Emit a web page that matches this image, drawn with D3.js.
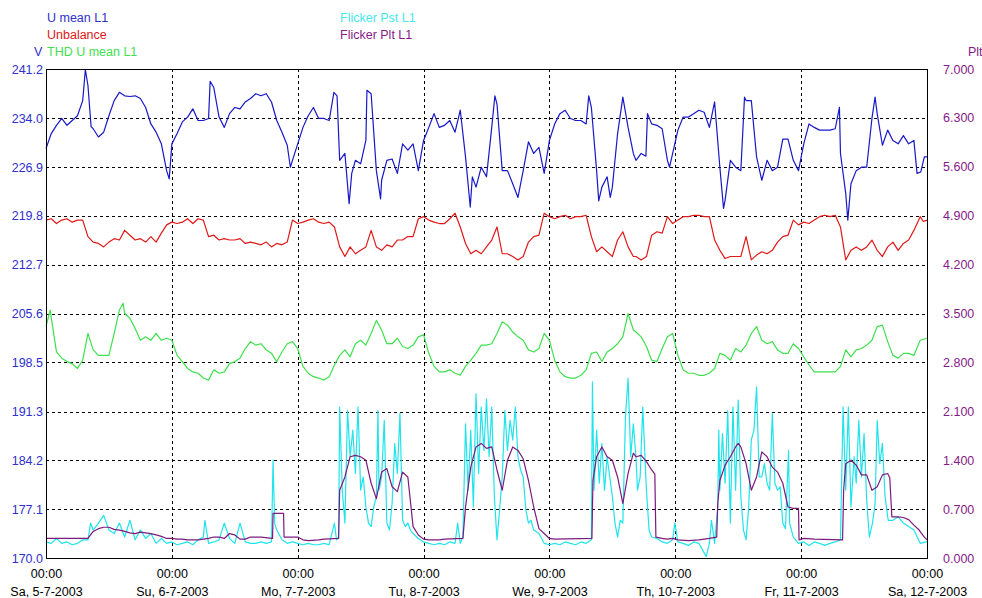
<!DOCTYPE html>
<html>
<head>
<meta charset="utf-8">
<script src="https://cdn.jsdelivr.net/npm/d3@7"></script>
<style>
  body { margin: 0; background: #fff; }
  svg { display: block; font-family: "Liberation Sans", Arial, sans-serif; }
</style>
</head>
<body>
<svg id="chart" width="982" height="598"></svg>
<script>
// ==================== DATA ====================
// hours since Sa 5-7-2003 00:00
const dayLabels = ["Sa, 5-7-2003", "Su, 6-7-2003", "Mo, 7-7-2003", "Tu, 8-7-2003",
  "We, 9-7-2003", "Th, 10-7-2003", "Fr, 11-7-2003", "Sa, 12-7-2003"];
const leftTicks = [170.0, 177.1, 184.2, 191.3, 198.5, 205.6, 212.7, 219.8, 226.9, 234.0, 241.2];
const rightTicks = [0, 0.7, 1.4, 2.1, 2.8, 3.5, 4.2, 4.9, 5.6, 6.3, 7.0];

// U mean L1 (V)
const uMean = [[0,229.6],[1,231.8],[2,233.0],[3,234.0],[4,233.0],[5,233.7],[6,234.4],[7,236.6],[7.5,241.1],[8,238.8],[8.6,232.8],[9,232.5],[10,231.3],[11,232.0],[12,234.4],[13,236.6],[14,237.8],[15,237.3],[16,237.2],[17,237.3],[18,236.9],[19,235.6],[20,233.2],[21,232.0],[22,230.3],[23,226.4],[23.5,225.2],[24,230.3],[25,231.8],[26,233.5],[27,234.2],[28,235.4],[29,233.7],[30,233.7],[31,234.0],[31.3,239.4],[32,238.5],[33,234.2],[34,232.7],[35,234.7],[36,235.6],[37,235.4],[38,236.4],[39,236.9],[40,237.6],[41,237.3],[42,237.6],[43,236.4],[44,233.7],[45,232.0],[46,230.1],[46.6,226.9],[47,227.9],[48,230.3],[49,232.7],[50,234.4],[51,235.6],[52,234.0],[53,234.0],[54,233.7],[54.9,237.8],[55.5,237.3],[56,227.9],[57,228.9],[57.8,221.6],[58.3,226.0],[59,227.9],[60,227.4],[61,230.8],[61.2,238.1],[62,237.6],[63,226.4],[63.8,222.3],[64,225.0],[65,227.9],[66,228.1],[67,226.0],[68,230.3],[69,229.4],[70,230.3],[71,226.4],[72,230.8],[73,232.7],[74,234.7],[75,232.7],[76,233.0],[77,233.7],[78,232.0],[79,235.2],[80,228.4],[80.9,221.1],[81.3,225.5],[82,224.0],[83,226.9],[84,225.5],[85,232.7],[85.6,237.3],[86,236.1],[87,226.4],[88,226.4],[89,224.5],[90,222.5],[91,226.4],[92,230.6],[93,228.9],[94,229.8],[95,226.0],[96,230.8],[97,233.2],[98,234.7],[99,235.2],[100,234.0],[101,233.7],[102,233.7],[103,233.2],[103.5,237.3],[104,235.6],[105,226.4],[105.4,222.0],[106,224.0],[107,225.5],[107.6,222.5],[108,224.0],[109,231.8],[110,237.1],[111,232.7],[112,228.9],[112.5,227.9],[113.5,228.9],[114.4,228.5],[114.7,234.7],[115.5,233.2],[116.5,233.0],[117.5,232.5],[118.5,227.9],[118.9,226.9],[119.5,228.9],[120.5,232.3],[121.5,234.2],[122.5,234.2],[123.5,234.7],[124.5,235.2],[125.5,234.9],[126.5,232.7],[127.5,236.4],[128.5,226.9],[129.2,220.9],[129.5,222.1],[130.5,227.9],[131.5,226.9],[132.5,226.4],[133.2,237.1],[133.5,236.6],[134.5,236.6],[135.5,228.4],[136.5,225.0],[137.5,227.9],[138.5,226.4],[139.5,226.9],[140.5,231.0],[141.5,231.0],[142.5,227.9],[143.5,226.4],[144.5,230.3],[145.5,233.2],[146.5,232.7],[147.5,232.3],[148.5,232.3],[149.5,232.3],[150.5,232.5],[151.3,235.6],[151.5,228.9],[152.5,223.1],[152.9,219.2],[153.5,224.5],[154.5,226.4],[155.5,226.9],[156.5,226.9],[157.5,234.0],[158.1,237.1],[158.5,234.7],[159.5,230.1],[160.5,232.3],[161.5,230.8],[162.5,230.3],[163.5,231.5],[164.5,230.3],[165.5,230.8],[166.1,226.0],[166.8,226.2],[167.5,228.4],[168,228.4]];

// Unbalance (drawn on the V scale)
const unbalance = [[0,219.2],[1,219.4],[2,218.7],[3,219.2],[4,219.4],[5,218.9],[6,219.2],[7,219.2],[8,216.8],[9,216.0],[10,215.8],[11,215.3],[12,216.0],[13,216.5],[14,216.3],[15,217.7],[16,217.0],[17,216.3],[18,216.5],[19,216.0],[20,216.8],[21,216.0],[22,217.3],[23,218.5],[24,218.9],[25,218.7],[26,218.9],[27,219.4],[28,218.7],[29,219.4],[30,219.2],[31,216.8],[32,217.0],[33,216.3],[34,216.5],[35,216.3],[36,216.3],[37,216.5],[38,215.8],[39,216.0],[40,215.8],[41,215.6],[42,216.0],[43,215.3],[44,215.8],[45,215.6],[46,216.0],[47,219.2],[48,218.7],[49,218.9],[50,219.2],[51,219.4],[52,218.9],[53,218.7],[54,218.9],[55,218.2],[56,215.3],[57,213.9],[58,215.3],[59,214.3],[60,214.8],[61,215.3],[62,217.7],[63,215.3],[64,214.8],[65,215.6],[66,215.3],[67,216.3],[68,216.3],[69,216.8],[70,216.8],[71,219.4],[72,219.7],[73,219.2],[74,218.9],[75,218.7],[76,218.7],[77,219.4],[78,220.2],[79,218.2],[80,215.8],[81,214.3],[82,214.8],[83,214.3],[84,215.3],[85,216.3],[86,218.2],[87,214.3],[88,214.3],[89,213.9],[90,213.4],[91,213.9],[92,216.0],[93,216.8],[94,217.0],[95,220.2],[96,219.7],[97,219.4],[98,219.7],[99,219.9],[100,219.4],[101,219.7],[102,219.7],[103,219.9],[104,216.8],[105,214.6],[106,215.3],[107,214.6],[108,213.9],[109,216.3],[110,217.5],[111,215.3],[112,213.9],[112.5,213.9],[113.5,213.4],[114.5,213.9],[115.5,217.0],[116.5,217.5],[117.5,217.3],[118.5,219.7],[119.5,218.7],[120.5,219.2],[121.5,219.7],[122.5,219.7],[123.5,219.9],[124.5,219.9],[125.5,219.7],[126.5,219.7],[127.5,216.3],[128.5,214.8],[129.5,213.6],[130.5,213.9],[131.5,213.9],[132.5,213.9],[133.5,216.8],[134.5,213.4],[135.5,214.1],[136.5,214.6],[137.5,214.3],[138.5,214.8],[139.5,216.0],[140.5,216.8],[141.5,217.0],[142.5,219.2],[143.5,218.5],[144.5,218.9],[145.5,218.7],[146.5,219.2],[147.5,219.7],[148.5,219.9],[149.5,219.7],[150.5,219.9],[151.5,218.2],[152.5,213.4],[153.5,214.8],[154.5,215.3],[155.5,214.8],[156.5,215.3],[157.5,216.3],[158.5,214.8],[159.5,213.9],[160.5,215.3],[161.5,216.0],[162.5,214.8],[163.5,215.8],[164.5,216.3],[165.5,217.7],[166.7,219.7],[167.3,219.0],[168,219.2]];

// THD U mean L1 (drawn on the V scale)
const thd = [[0,203.7],[0.8,206.1],[1,205.0],[2,200.0],[3,199.1],[4,198.6],[5,198.3],[6,197.6],[7,198.8],[8,202.7],[9,200.3],[10,199.5],[11,199.5],[12,199.5],[13,202.7],[14,206.1],[14.7,207.1],[15,205.6],[16,204.9],[17,203.4],[18,201.7],[19,202.2],[20,201.7],[21,202.7],[22,201.7],[23,202.0],[24,201.7],[25,199.5],[26,198.6],[27,197.6],[28,197.1],[29,196.9],[30,196.2],[31,195.9],[32,197.4],[33,196.9],[34,197.1],[35,198.3],[36,198.6],[37,199.1],[38,200.5],[39,201.5],[40,201.0],[41,201.2],[42,200.3],[43,199.8],[44,198.6],[45,200.0],[46,201.2],[47,201.5],[48,200.5],[49,197.9],[50,196.9],[51,196.4],[52,196.2],[53,195.9],[54,196.4],[55,198.1],[56,199.5],[57,200.3],[58,199.3],[59,201.2],[60,201.7],[61,201.0],[62,202.7],[63,204.6],[64,203.2],[65,201.2],[66,201.2],[67,202.0],[68,200.8],[69,200.5],[70,201.0],[71,202.2],[72,202.5],[73,199.8],[74,197.9],[75,197.1],[76,197.1],[77,197.4],[78,196.9],[79,196.6],[80,197.9],[81,198.8],[82,199.8],[83,201.0],[84,201.0],[85,201.2],[86,202.7],[87,204.4],[88,203.9],[89,202.9],[90,202.2],[91,201.7],[92,200.3],[93,200.0],[94,200.5],[95,202.7],[96,201.7],[97,198.8],[98,197.1],[99,196.4],[100,196.2],[101,196.2],[102,196.6],[103,197.4],[104,199.8],[105,200.0],[106,198.6],[107,200.0],[108,200.5],[109,201.2],[110,202.2],[111,205.6],[112,203.2],[112.5,202.9],[113.5,202.2],[114.5,200.8],[115.5,198.8],[116.5,198.6],[117.5,200.5],[118.5,202.2],[119.5,202.7],[120.5,199.5],[121.5,197.4],[122.5,196.9],[123.5,196.9],[124.5,196.6],[125.5,196.6],[126.5,196.9],[127.5,197.6],[128.5,199.8],[129.5,199.5],[130.5,198.8],[131.5,200.5],[132.5,200.0],[133.5,201.0],[134.5,202.7],[135.5,203.7],[136.5,201.7],[137.5,201.2],[138.5,201.5],[139.5,200.3],[140.5,199.8],[141.5,199.8],[142.5,201.2],[143.5,200.5],[144.5,199.3],[145.5,198.1],[146.5,197.1],[147.5,197.1],[148.5,197.1],[149.5,197.1],[150.5,197.1],[151.5,197.9],[152.5,200.3],[153.5,199.3],[154.5,200.3],[155.5,200.5],[156.5,201.0],[157.5,201.7],[158.5,203.7],[159.5,203.9],[160.5,201.5],[161.5,199.5],[162.5,199.1],[163.5,199.8],[164.5,199.8],[165.5,199.5],[166.7,201.7],[168,202.0]];

// Flicker Pst L1 (right scale)
const pst = [[0,0.23],[1,0.21],[2,0.28],[3,0.21],[4,0.23],[5,0.19],[6,0.21],[7,0.26],[8,0.26],[8.5,0.50],[9,0.40],[10,0.50],[11,0.61],[12,0.40],[13,0.35],[14,0.50],[15,0.30],[16,0.54],[17,0.26],[18,0.40],[19,0.28],[20,0.35],[21,0.21],[22,0.28],[23,0.21],[24,0.23],[25,0.19],[26,0.21],[27,0.23],[28,0.19],[29,0.26],[30,0.30],[30.3,0.54],[31,0.21],[32,0.23],[33,0.26],[34,0.50],[35,0.28],[36,0.21],[37,0.50],[38,0.23],[39,0.21],[40,0.21],[41,0.23],[42,0.21],[43,0.23],[43.3,1.40],[43.6,0.50],[44,0.40],[45,0.26],[46,0.21],[47,0.23],[48,0.21],[49,0.19],[50,0.21],[51,0.19],[52,0.19],[53,0.21],[54,0.19],[55,0.50],[55.4,0.26],[55.8,0.30],[56,2.16],[56.5,0.97],[57,0.50],[57.5,2.11],[58,1.45],[58.5,1.83],[59,1.21],[59.5,2.16],[60,0.97],[60.5,1.16],[61,0.73],[61.5,0.50],[62,0.45],[62.5,0.73],[63,0.88],[63.3,2.11],[63.5,0.97],[64,1.16],[64.5,1.97],[65,0.50],[65.5,0.40],[66,0.78],[66.5,1.64],[67,1.21],[67.5,2.07],[68,0.54],[68.5,0.45],[69,0.50],[69.5,0.40],[70,0.35],[71,0.28],[72,0.23],[73,0.21],[74,0.19],[75,0.21],[76,0.19],[77,0.23],[78,0.21],[78.5,0.50],[79,0.21],[79.5,0.30],[80,1.92],[80.5,0.97],[81,1.83],[81.5,0.73],[82,2.35],[82.5,1.21],[83,2.16],[83.5,1.54],[84,2.28],[84.5,1.45],[85,2.16],[85.5,0.88],[86,0.26],[86.5,0.69],[87,1.16],[87.5,2.11],[88,1.54],[88.5,1.97],[89,1.69],[89.5,2.16],[90,1.45],[90.5,1.26],[91,1.16],[91.5,0.69],[92,0.50],[92.5,0.54],[93,0.40],[94,0.35],[95,0.21],[96,0.19],[97,0.21],[98,0.19],[99,0.23],[100,0.21],[101,0.19],[102,0.23],[103,0.21],[104,0.26],[104.2,2.52],[104.5,0.97],[105,1.83],[105.5,1.07],[106,1.64],[106.5,0.97],[107,1.45],[107.5,1.16],[108,0.88],[108.5,0.50],[109,0.30],[109.5,0.54],[110,0.50],[110.5,2.02],[111,2.57],[111.5,1.45],[112,1.92],[112.5,1.45],[112.8,0.97],[113.3,1.16],[113.8,2.16],[114.5,0.97],[115,0.40],[115.5,0.30],[116.5,0.28],[117.5,0.23],[118.5,0.21],[119.5,0.26],[119.9,0.50],[120.5,0.23],[121.5,0.21],[122.5,0.18],[123.5,0.23],[124.5,0.21],[125.9,0.02],[126.5,0.21],[126.9,0.54],[127.5,0.21],[128.1,0.73],[128.3,1.83],[128.5,0.97],[129,1.78],[129.5,1.07],[130,2.11],[130.5,0.50],[131,2.16],[131.5,0.97],[132,2.26],[132.5,0.88],[133,0.40],[133.5,0.26],[134,0.73],[134.5,1.69],[135,1.83],[135.5,2.45],[136,1.16],[136.5,1.16],[137,1.35],[137.5,1.07],[138,0.97],[138.5,2.07],[139,1.07],[139.5,0.97],[140,1.02],[140.5,0.50],[141,0.42],[141.6,1.54],[141.8,0.50],[142.5,0.30],[143.5,0.21],[144.5,0.23],[145.5,0.18],[146.5,0.23],[147.5,0.21],[148.5,0.18],[149.5,0.21],[150.5,0.23],[151.5,0.26],[152,2.16],[152.5,0.97],[153,2.16],[153.5,0.73],[154.1,1.45],[154.5,1.07],[155,1.97],[155.5,1.16],[156,1.78],[156.5,0.83],[157,0.30],[157.6,0.50],[158.1,0.78],[158.5,1.97],[159,1.35],[159.5,1.64],[160,0.88],[160.6,0.54],[161.5,0.54],[162.5,0.59],[163.5,0.50],[164.5,0.45],[165.5,0.40],[166.7,0.21],[167.8,0.23],[168,0.23]];

// Flicker Plt L1 (right scale)
const plt = [[0,0.28],[8,0.28],[9,0.38],[10,0.42],[11,0.44],[12,0.44],[13,0.41],[14,0.40],[15,0.38],[16,0.36],[17,0.35],[18,0.37],[19,0.36],[20,0.35],[21,0.33],[22,0.31],[23,0.28],[24,0.28],[25,0.27],[26,0.27],[27,0.26],[29,0.26],[30,0.27],[31,0.28],[32,0.30],[33,0.30],[34,0.28],[35,0.35],[36,0.33],[37,0.27],[38,0.27],[39,0.30],[41,0.30],[43.2,0.28],[43.3,0.64],[45.3,0.64],[45.4,0.30],[47,0.30],[48,0.30],[49,0.26],[50,0.25],[52,0.26],[53,0.27],[55.8,0.28],[56,0.97],[57,1.16],[58,1.45],[59,1.47],[60,1.45],[61,1.40],[62,1.07],[63,0.85],[64,1.23],[65,1.28],[66,1.02],[67,0.95],[68,1.23],[69,1.16],[70,0.45],[71,0.33],[72,0.27],[73,0.26],[75,0.26],[76,0.27],[79.5,0.28],[80,0.73],[81,1.30],[82,1.59],[83,1.64],[84,1.57],[85,1.59],[86,1.26],[87,0.97],[88,1.40],[89,1.59],[90,1.54],[91,1.42],[92,1.11],[93,0.73],[94,0.42],[95,0.35],[96,0.28],[97,0.27],[104.1,0.28],[104.3,1.11],[105,1.45],[106,1.59],[107,1.45],[108,1.40],[109,1.16],[110,0.78],[111,1.21],[112,1.50],[112.5,1.45],[113.5,1.47],[114.5,1.38],[115.5,1.26],[116.1,1.20],[116.3,0.30],[117.5,0.28],[118.5,0.27],[119.5,0.28],[120.5,0.26],[122.5,0.25],[124.5,0.26],[126.5,0.28],[127.9,0.30],[128.1,0.78],[128.5,1.11],[129.5,1.33],[130.5,1.45],[131.5,1.59],[132,1.64],[132.5,1.59],[133.5,1.35],[134.5,0.97],[135.5,1.16],[136.5,1.52],[137.5,1.45],[138.5,1.30],[139.5,1.23],[140.5,1.07],[141.5,0.73],[142.5,0.71],[143.5,0.71],[143.6,0.26],[144.5,0.28],[146.5,0.27],[151.9,0.26],[152.1,0.97],[152.5,1.35],[153.5,1.40],[154.5,1.33],[155.5,1.19],[156.5,1.19],[157.5,0.97],[158.5,1.02],[159.5,1.19],[160.5,1.21],[160.9,1.15],[161.3,0.59],[162.5,0.59],[163.5,0.58],[164.5,0.55],[165.5,0.47],[166.5,0.40],[167.5,0.30],[168,0.26]];

// ==================== KONFIGURASI ====================
const colors = {
  blue: "#1818c8",
  blueText: "#2f2fcc",
  red: "#e01818",
  green: "#3ee04e",
  cyan: "#20e4ec",
  purple: "#7c1a7e",
  purpleText: "#861a86",
};
const plot = { left: 46, right: 927, top: 69, bottom: 558 };
const start = new Date(2003, 6, 5);
const hour = (h) => new Date(start.getTime() + h * 3600e3);
const days = d3.range(8).map((d) => hour(d * 24));

const svg = d3.select("#chart");

const x = d3.scaleTime().domain([days[0], days[7]]).range([plot.left, plot.right]);
const yL = d3.scaleLinear().domain([170, 241.2]).range([plot.bottom, plot.top]);
const yR = d3.scaleLinear().domain([0, 7]).range([plot.bottom, plot.top]);

// ==================== GRID ====================
const grid = svg.append("g").attr("stroke", "#000").attr("stroke-dasharray", "3,3").attr("stroke-width", 1);
grid.selectAll("line.h")
  .data(leftTicks.slice(1, -1))
  .enter().append("line")
  .attr("x1", plot.left).attr("x2", plot.right)
  .attr("y1", (d) => Math.round(yL(d)) + 0.5).attr("y2", (d) => Math.round(yL(d)) + 0.5);
grid.selectAll("line.v")
  .data(days.slice(1, -1))
  .enter().append("line")
  .attr("y1", plot.top).attr("y2", plot.bottom)
  .attr("x1", (d) => Math.round(x(d)) + 0.5).attr("x2", (d) => Math.round(x(d)) + 0.5);

// ==================== SERIES ====================
const lineL = d3.line().x((d) => x(hour(d[0]))).y((d) => yL(d[1]));
const lineR = d3.line().x((d) => x(hour(d[0]))).y((d) => yR(d[1]));

const series = [
  { data: thd, line: lineL, color: colors.green },
  { data: unbalance, line: lineL, color: colors.red },
  { data: uMean, line: lineL, color: colors.blue },
  { data: pst, line: lineR, color: colors.cyan },
  { data: plt, line: lineR, color: colors.purple },
];
series.forEach((s) => {
  svg.append("path")
    .datum(s.data)
    .attr("fill", "none")
    .attr("stroke", s.color)
    .attr("stroke-width", 1.2)
    .attr("stroke-linejoin", "round")
    .attr("d", s.line);
});

// frame
svg.append("rect")
  .attr("x", plot.left + 0.5).attr("y", plot.top + 0.5)
  .attr("width", plot.right - plot.left).attr("height", plot.bottom - plot.top)
  .attr("fill", "none").attr("stroke", "#000").attr("stroke-width", 1);

// ==================== AXES ====================
const axL = svg.append("g")
  .attr("transform", `translate(${plot.left},0)`)
  .call(d3.axisLeft(yL).tickValues(leftTicks).tickSize(0).tickPadding(3).tickFormat(d3.format(".1f")));
axL.select(".domain").remove();
axL.selectAll("text").attr("fill", colors.blueText).style("font-size", "12.5px")
  .style("font-family", "Liberation Sans, Arial, sans-serif");

const axR = svg.append("g")
  .attr("transform", `translate(${plot.right},0)`)
  .call(d3.axisRight(yR).tickValues(rightTicks).tickSize(0).tickPadding(16).tickFormat(d3.format(".3f")));
axR.select(".domain").remove();
axR.selectAll("text").attr("fill", colors.purpleText).style("font-size", "12.5px")
  .style("font-family", "Liberation Sans, Arial, sans-serif");

const axB = svg.append("g")
  .attr("transform", `translate(0,${plot.bottom})`)
  .call(d3.axisBottom(x).tickValues(days).tickSize(0).tickPadding(11).tickFormat(d3.timeFormat("%H:%M")));
axB.select(".domain").remove();
axB.selectAll("text").attr("fill", "#000").style("font-size", "12.5px")
  .style("font-family", "Liberation Sans, Arial, sans-serif")
  .each(function (d, i) {
    d3.select(this).append("tspan").attr("x", 0).attr("dy", "1.45em").text(dayLabels[i]);
  });

// ==================== LEGEND ====================
const legend = [
  { text: "U mean L1", x: 47, y: 22, color: colors.blueText },
  { text: "Unbalance", x: 47, y: 39, color: colors.red },
  { text: "THD U mean L1", x: 47, y: 56, color: colors.green },
  { text: "V", x: 34, y: 56, color: colors.blueText },
  { text: "Flicker Pst L1", x: 340, y: 22, color: "#44e8ee" },
  { text: "Flicker Plt L1", x: 340, y: 39, color: colors.purpleText },
  { text: "Plt", x: 968, y: 56, color: colors.purpleText },
];
svg.append("g").selectAll("text")
  .data(legend)
  .enter().append("text")
  .attr("x", (d) => d.x).attr("y", (d) => d.y)
  .attr("fill", (d) => d.color)
  .style("font-size", "12.5px")
  .text((d) => d.text);
</script>
</body>
</html>
